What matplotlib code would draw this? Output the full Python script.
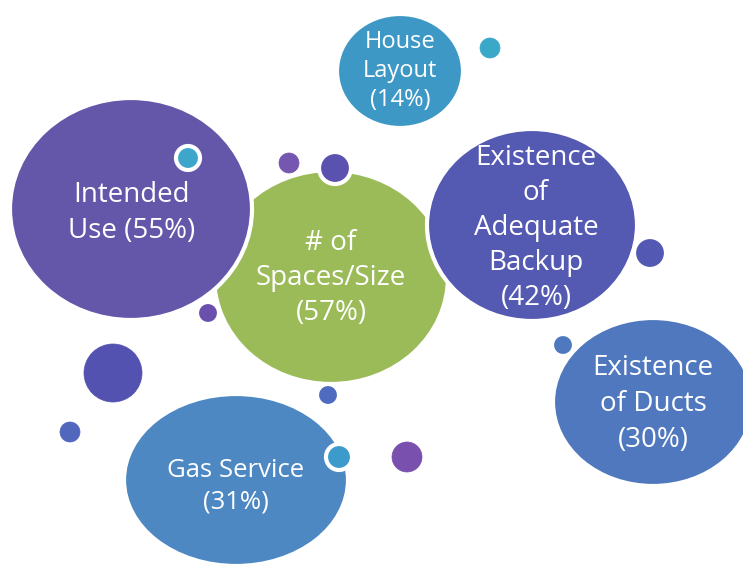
import matplotlib
matplotlib.use("Agg")
import matplotlib.pyplot as plt
from matplotlib.patches import Ellipse

# ---- data ----
labels = ["# of\nSpaces/Size", "House\nLayout", "Intended\nUse",
          "Existence\nof\nAdequate\nBackup", "Existence\nof Ducts", "Gas Service"]
pcts = [57, 14, 55, 42, 30, 31]

# ---- layout (pixel space) ----
centers = [(331, 277), (400, 71), (131, 209), (532, 225), (653, 402), (236, 480)]
radii = [(117, 107), (63, 57), (121, 111), (105, 96), (100, 84), (112, 86)]
colors = ["#9BBB59", "#3E98C6", "#6457AA", "#5459B2", "#4F78BE", "#4D88C3"]
text_xy = [(331, 278), (400, 71), (132, 213), (536, 228), (653, 404), (236, 486)]
fs = [20, 17, 20, 20, 20, 18.5]
ls = [1.33, 1.28, 1.4, 1.34, 1.36, 1.32]

small_xy = [(188, 158), (289, 163), (335, 168), (208, 313), (113, 373), (70, 432),
            (328, 395), (339, 457), (407, 457), (490, 48), (650, 253), (563, 345)]
small_r = [12, 10, 16, 11, 29, 10, 11, 13, 15, 10, 16, 11]
small_c = ["#3DA6CA", "#7657B0", "#5A52AE", "#6A4FAC", "#5452B0", "#5166BD",
           "#4F6BC0", "#3C9BCA", "#7A50AE", "#3AA8C8", "#5358B3", "#4E79BF"]
small_edge = [True, False, True, True, False, False, True, True, False, False, True, True]
small_z = [3, 3, 3, 1.5, 3, 3, 3, 3, 3, 3, 3, 3]

fig = plt.figure(figsize=(7.43, 5.67), dpi=100)
ax = fig.add_axes([0, 0, 1, 1])
ax.set_xlim(0, 743)
ax.set_ylim(567, 0)
ax.axis("off")

for i, ((cx, cy), (rx, ry), c) in enumerate(zip(centers, radii, colors)):
    ax.add_patch(Ellipse((cx, cy), 2 * rx, 2 * ry, facecolor=c, edgecolor="white",
                         linewidth=3, zorder=1 if i == 0 else 2))

for (cx, cy), r, c, e, z in zip(small_xy, small_r, small_c, small_edge, small_z):
    ax.add_patch(Ellipse((cx, cy), 2 * r, 2 * r, facecolor=c,
                         edgecolor="white" if e else c,
                         linewidth=3 if e else 0.5, zorder=z))

for (tx, ty), lab, p, f, l in zip(text_xy, labels, pcts, fs, ls):
    txt = f"Intended\nUse ({p}%)" if lab.startswith("Intended") else f"{lab}\n({p}%)"
    ax.text(tx, ty, txt, ha="center", va="center", color="white", fontsize=f,
            family=["Open Sans", "DejaVu Sans"], linespacing=l, zorder=4)

fig.savefig("out.png", dpi=100, facecolor="white")
